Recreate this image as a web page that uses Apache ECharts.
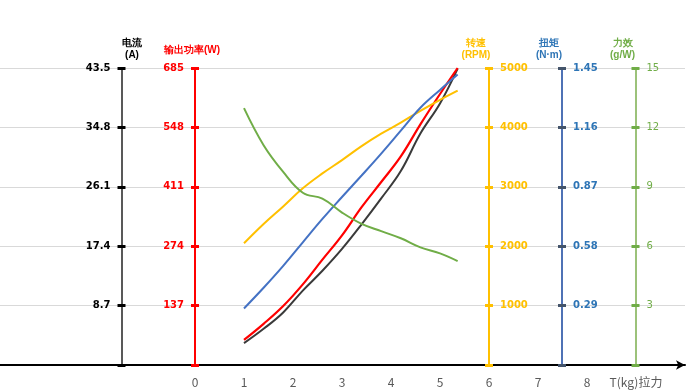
<!DOCTYPE html>
<html>
<head>
<meta charset="utf-8">
<script src="https://cdn.jsdelivr.net/npm/echarts@6/dist/echarts.min.js"></script>
<style>
  html, body { margin: 0; padding: 0; background: #fff; }
  #main { width: 696px; height: 392px; }
</style>
</head>
<body>
<div id="main"></div>
<script>
// 拉力 T(kg)
var pull = [1, 1.4, 1.8, 2.2, 2.6, 3.0, 3.4, 3.8, 4.2, 4.6, 5.0, 5.36]
var current = [3.2, 5.3, 7.7, 10.9, 13.8, 17.0, 20.6, 24.4, 28.4, 33.9, 38.3, 43.4]
var power = [58, 95, 136, 186, 243, 299, 364, 422, 481, 555, 625, 685]
var speed = [2050, 2375, 2670, 2975, 3225, 3450, 3685, 3895, 4080, 4280, 4465, 4620]
var torque = [0.276, 0.377, 0.484, 0.599, 0.713, 0.82, 0.925, 1.032, 1.144, 1.256, 1.343, 1.418]
var efficiency = [12.97, 11.1, 9.75, 8.7, 8.4, 7.7, 7.13, 6.76, 6.4, 5.94, 5.64, 5.25]

// 刻度
var xTicks = [0, 1, 2, 3, 4, 5, 6, 7, 8]
var xName = 'T(kg)拉力'
var currentTicks = [8.7, 17.4, 26.1, 34.8, 43.5]
var powerTicks = [137, 274, 411, 548, 685]
var speedTicks = [1000, 2000, 3000, 4000, 5000]
var torqueTicks = [0.29, 0.58, 0.87, 1.16, 1.45]
var effTicks = [3, 6, 9, 12, 15]

function pairs(ys) {
  return pull.map(function (x, i) { return [x, ys[i]] })
}

function decimals(ticks) {
  var s = String(ticks[0])
  return s.indexOf('.') >= 0 ? s.split('.')[1].length : 0
}

// 一根y轴 + 一根只画内侧刻度的影子轴（刻度穿过轴线）
function makeAxis(o) {
  var dec = decimals(o.ticks)
  var base = {
    type: 'value',
    min: 0,
    max: o.ticks[o.ticks.length - 1],
    interval: o.ticks[0],
    position: o.pos,
    offset: o.offset
  }
  var main = Object.assign({}, base, {
    name: o.name,
    nameLocation: 'end',
    nameGap: o.nameGap,
    nameTextStyle: {
      color: o.labelColor,
      fontSize: 10,
      fontWeight: 'bold',
      lineHeight: 12,
      align: 'center',
      verticalAlign: 'bottom',
      padding: o.namePad
    },
    axisLine: { show: true, onZero: false, lineStyle: { color: o.lineColor, width: 2 } },
    axisTick: { show: true, length: 4, lineStyle: { color: o.tickColor, width: 3 } },
    axisLabel: {
      show: true,
      margin: 11,
      color: o.labelColor,
      fontSize: 10,
      fontWeight: o.bold ? 'bold' : 'normal',
      fontFamily: 'DejaVu Sans',
      formatter: function (v) { return v === 0 ? '' : v.toFixed(dec) }
    },
    splitLine: { show: !!o.split, lineStyle: { color: '#d9d9d9', width: 1 } }
  })
  var twin = Object.assign({}, base, {
    axisLine: { show: false, onZero: false },
    axisTick: { show: true, inside: true, length: 4, lineStyle: { color: o.tickColor, width: 3 } },
    axisLabel: { show: false },
    splitLine: { show: false }
  })
  return [main, twin]
}

var axes = []
axes = axes.concat(makeAxis({
  ticks: currentTicks, pos: 'left', offset: -122.5, name: '电流\n(A)', nameGap: 7, namePad: [0, 0, 0, 21],
  lineColor: '#595959', tickColor: '#000', labelColor: '#000', bold: true, split: true
}))
axes = axes.concat(makeAxis({
  ticks: powerTicks, pos: 'left', offset: -196, name: '输出功率(W)', nameGap: 12, namePad: [0, 6, 0, 0],
  lineColor: '#ff0000', tickColor: '#ff0000', labelColor: '#ff0000', bold: true
}))
axes = axes.concat(makeAxis({
  ticks: speedTicks, pos: 'right', offset: -196, name: '转速\n(RPM)', nameGap: 7, namePad: [0, 26, 0, 0],
  lineColor: '#ffc000', tickColor: '#ffc000', labelColor: '#ffc000', bold: true
}))
axes = axes.concat(makeAxis({
  ticks: torqueTicks, pos: 'right', offset: -123, name: '扭矩\n(N·m)', nameGap: 7, namePad: [0, 26, 0, 0],
  lineColor: '#4f72b5', tickColor: '#44546a', labelColor: '#2e75b6', bold: true
}))
axes = axes.concat(makeAxis({
  ticks: effTicks, pos: 'right', offset: -49.5, name: '力效\n(g/W)', nameGap: 7, namePad: [0, 26, 0, 0],
  lineColor: '#9cc27a', tickColor: '#70ad47', labelColor: '#70ad47', bold: false
}))

function line(name, ys, axisIndex, color, width) {
  return {
    name: name,
    type: 'line',
    yAxisIndex: axisIndex,
    data: pairs(ys),
    smooth: 0.4,
    symbol: 'none',
    lineStyle: { color: color, width: width || 2 },
    z: 3
  }
}

var chart = echarts.init(document.getElementById('main'))
var option = {
  animation: false,
  backgroundColor: '#fff',
  grid: { left: -1, right: 11, top: 68, bottom: 27, outerBoundsMode: 'none' },
  xAxis: {
    type: 'value',
    min: -4,
    max: 10,
    interval: 1,
    axisLine: {
      show: true,
      onZero: false,
      symbol: ['none', 'arrow'],
      symbolSize: [7, 9],
      lineStyle: { color: '#000', width: 2 }
    },
    axisTick: { show: false },
    splitLine: { show: false },
    axisLabel: {
      margin: 11,
      color: '#595959',
      fontSize: 12,
      fontFamily: 'Noto Sans CJK SC',
      showMinLabel: true,
      showMaxLabel: true,
      formatter: function (v) {
        if (v === 9) return xName
        return xTicks.indexOf(v) >= 0 ? String(v) : ''
      }
    }
  },
  yAxis: axes,
  series: [
    line('电流', current, 0, '#3a3a3a'),
    line('输出功率', power, 2, '#ff0000', 2.2),
    line('转速', speed, 4, '#ffc000'),
    line('扭矩', torque, 6, '#4472c4'),
    line('力效', efficiency, 8, '#70ad47')
  ]
}
chart.setOption(option)
</script>
</body>
</html>
